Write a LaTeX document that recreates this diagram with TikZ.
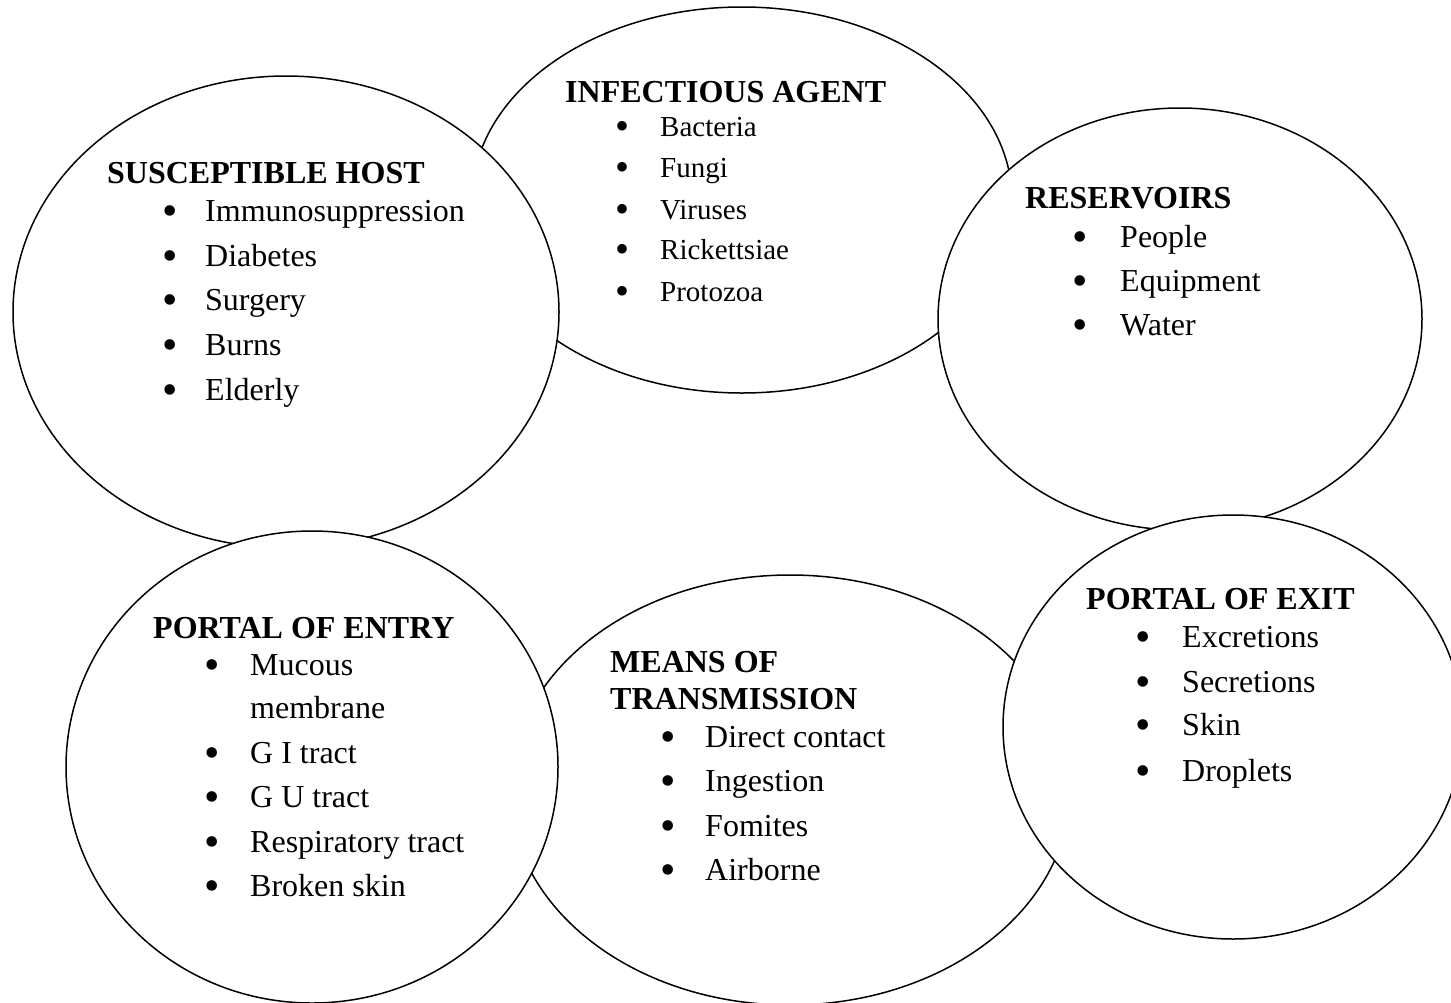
\documentclass[tikz,border=0pt]{standalone}
\usepackage{fontspec}
\setmainfont{Liberation Serif}
\begin{document}
\begin{tikzpicture}[x=1pt,y=-1pt,
  ring/.style={draw=black, fill=white, line width=1.5pt},
  head/.style={font=\bfseries\fontsize{32}{36}\selectfont, anchor=base west, inner sep=0pt},
  itm/.style={font=\fontsize{32}{36}\selectfont, anchor=base west, inner sep=0pt},
  bul/.style={font=\fontsize{44}{46}\selectfont, anchor=base, inner sep=0pt, yshift=-4pt},
  itms/.style={font=\fontsize{29}{33}\selectfont, anchor=base west, inner sep=0pt},
  buls/.style={font=\fontsize{40}{42}\selectfont, anchor=base, inner sep=0pt, yshift=-3pt}]
\useasboundingbox (0,0) rectangle (1451,1002);
\clip (0,0) rectangle (1451,1002);
\fill[white] (0,0) rectangle (1451,1002);
% ellipses in stacking order
\draw[ring] (742,200) ellipse [x radius=270pt, y radius=193pt];
\draw[ring] (286,312) ellipse [x radius=273pt, y radius=236pt];
\draw[ring] (1180,319) ellipse [x radius=242pt, y radius=211pt];
\draw[ring] (790,790) ellipse [x radius=280pt, y radius=215pt];
\draw[ring] (312,767) ellipse [x radius=246pt, y radius=236pt];
\draw[ring] (1233,727) ellipse [x radius=230pt, y radius=212pt];
% Infectious agent
\node[head] (ia) at (565,102) {INFECTIOUS AGENT};
\foreach \t/\yy [count=\i] in {Bacteria/136, Fungi/177, Viruses/219, Rickettsiae/259, Protozoa/301}{
  \node[buls] (iab\i) at (622,\yy) {•};
  \node[itms] (iat\i) at (660,\yy) {\t};
}
% Susceptible host
\node[head] (sh) at (107,183) {SUSCEPTIBLE HOST};
\foreach \t/\yy [count=\i] in {Immunosuppression/221, Diabetes/266, Surgery/310, Burns/355, Elderly/400}{
  \node[bul] (shb\i) at (170,\yy) {•};
  \node[itm] (sht\i) at (205,\yy) {\t};
}
% Reservoirs
\node[head] (rv) at (1025,208) {RESERVOIRS};
\foreach \t/\yy [count=\i] in {People/247, Equipment/291, Water/335}{
  \node[bul] (rvb\i) at (1080,\yy) {•};
  \node[itm] (rvt\i) at (1120,\yy) {\t};
}
% Portal of entry
\node[head] (pe) at (153,638) {PORTAL OF ENTRY};
\node[bul] (peb1) at (212,675) {•};
\node[itm] (pet1) at (250,675) {Mucous};
\node[itm] (pet1b) at (250,718) {membrane};
\foreach \t/\yy [count=\i from 2] in {G I tract/763, G U tract/807, Respiratory tract/852, Broken skin/896}{
  \node[bul] (peb\i) at (212,\yy) {•};
  \node[itm] (pet\i) at (250,\yy) {\t};
}
% Means of transmission
\node[head] (mt1) at (610,672) {MEANS OF};
\node[head] (mt2) at (610,709) {TRANSMISSION};
\foreach \t/\yy [count=\i] in {Direct contact/747, Ingestion/791, Fomites/836, Airborne/880}{
  \node[bul] (mtb\i) at (668,\yy) {•};
  \node[itm] (mtt\i) at (705,\yy) {\t};
}
% Portal of exit
\node[head] (px) at (1086,609) {PORTAL OF EXIT};
\foreach \t/\yy [count=\i] in {Excretions/647, Secretions/692, Skin/735, Droplets/781}{
  \node[bul] (pxb\i) at (1143,\yy) {•};
  \node[itm] (pxt\i) at (1182,\yy) {\t};
}
\end{tikzpicture}
\end{document}
